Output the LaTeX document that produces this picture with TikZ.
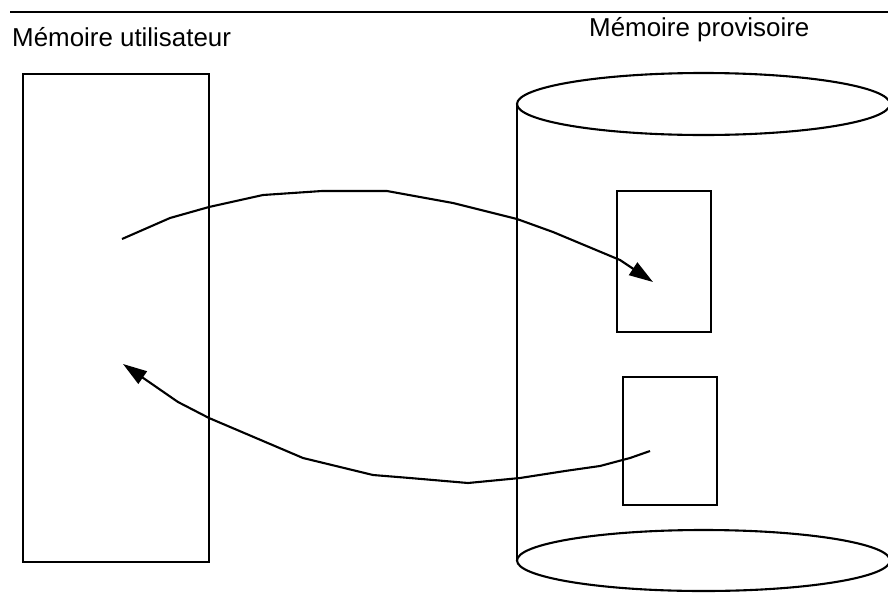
\documentclass[tikz,border=0pt]{standalone}
\usepackage{fontspec}
\setmainfont{Liberation Sans}
\usetikzlibrary{arrows.meta}
\begin{document}
\begin{tikzpicture}[x=1pt,y=-1pt,
  shape line/.style={draw=black,line width=2.1pt},
  flow/.style={draw=black,line width=2.1pt,line join=round,-{Triangle[length=24pt,width=15pt]}},
  label text/.style={anchor=base west,inner sep=0pt,font=\fontsize{25.9}{30}\selectfont}]
\useasboundingbox (0,0) rectangle (888,592);
% top rule
\coordinate (ruleA) at (10,12);
\coordinate (ruleB) at (888,12);
\draw[shape line] (ruleA) -- (ruleB);
% titles
\node[label text] (tuser) at (12,46) {Mémoire utilisateur};
\node[label text] (tprov) at (589,36) {Mémoire provisoire};
% user memory
\draw[shape line] (23,74) rectangle (209,562);
% cylinder
\draw[shape line] (703.5,104) ellipse [x radius=186.5, y radius=31];
\draw[shape line] (517,104) -- (517,561);
\draw[shape line] (703.5,560.5) ellipse [x radius=186.5, y radius=30.5];
% buffers
\draw[shape line] (617,191) rectangle (711,332);
\draw[shape line] (623,377) rectangle (717,505);
% arrows
\coordinate (s1) at (122,239);
\coordinate (e1) at (653,282);
\coordinate (s2) at (650,451);
\coordinate (e2) at (123,364);
\draw[flow] (s1) -- (170,218) -- (209,207) -- (263,195) -- (322,191) -- (387,191) -- (453,203) -- (517,219) -- (553,232) -- (620,260) -- (e1);
\draw[flow] (s2) -- (630,458) -- (600,466) -- (565,471) -- (520,478) -- (468,483) -- (410,478) -- (373,475) -- (303,458) -- (209,418) -- (178,402) -- (e2);
\end{tikzpicture}
\end{document}
